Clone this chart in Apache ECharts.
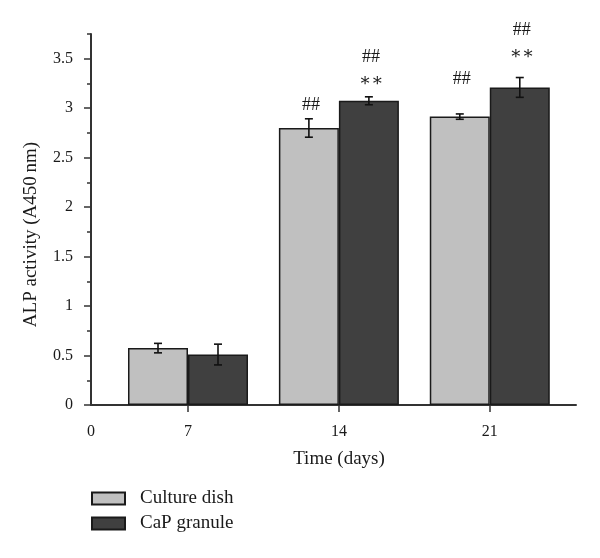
<!DOCTYPE html>
<html><head><meta charset="utf-8">
<script src="https://cdn.jsdelivr.net/npm/echarts@6/dist/echarts.min.js"></script>
<style>html,body{margin:0;padding:0;background:#fff}#c{width:600px;height:558px}</style>
</head><body><div id="c"></div>
<script>
// ---- data ----
const days = [7, 14, 21];
const xTickLabels = ['0', '7', '14', '21'];
const yTickValues = [0, 0.5, 1, 1.5, 2, 2.5, 3, 3.5];
const seriesNames = ['Culture dish', 'CaP granule'];
const cultureDish = [0.575, 2.80, 2.915];
const cultureDishErr = [0.048, 0.093, 0.027];
const capGranule = [0.51, 3.075, 3.21];
const capGranuleErr = [0.105, 0.04, 0.10];
const cultureMarks = [[], ['##'], ['##']];
const capMarks = [[], ['\u2217\u2217', '##'], ['\u2217\u2217', '##']];

// ---- style ----
const FONT = '"Liberation Serif", "Times New Roman", "DejaVu Serif", serif';
const TXT = '#1a1a1a';
const AXIS = '#333333';
const xMin = 2.5, xMax = 25;
const BAR_W = 60;
const cultureLift = [0, 14, 35];
const capLift = [0, 16, 23];
const LINE_STEP = 24;

const chart = echarts.init(document.getElementById('c'), null, {renderer: 'canvas'});

function errorSeries(values, errs, shift) {
  return {
    type: 'custom',
    silent: true,
    z: 5,
    data: days.map((d, i) => [d, values[i], errs[i]]),
    renderItem(params, api) {
      const x = api.value(0), y = api.value(1), e = api.value(2);
      const top = api.coord([x, y + e]);
      const bot = api.coord([x, y - e]);
      const cx = top[0] + shift;
      const style = {stroke: '#111', lineWidth: 1.6};
      return {type: 'group', children: [
        {type: 'line', shape: {x1: cx, y1: top[1], x2: cx, y2: bot[1]}, style},
        {type: 'line', shape: {x1: cx - 4, y1: top[1], x2: cx + 4, y2: top[1]}, style},
        {type: 'line', shape: {x1: cx - 4, y1: bot[1], x2: cx + 4, y2: bot[1]}, style}
      ]};
    }
  };
}

function markSeries(values, errs, marks, lifts, shift) {
  return {
    type: 'custom',
    silent: true,
    z: 6,
    data: days.map((d, i) => [d, values[i] + errs[i], i]),
    renderItem(params, api) {
      const x = api.value(0), y = api.value(1), i = api.value(2);
      const p = api.coord([x, y]);
      const cx = p[0] + shift + 2;
      return {type: 'group', children: marks[i].map((t, k) => ({
        type: 'text',
        style: {
          text: t, x: cx, y: p[1] - lifts[i] - k * LINE_STEP,
          align: 'center', verticalAlign: 'middle',
          font: (t.indexOf('#') >= 0 ? '18px ' : '18px ') + FONT,
          fill: TXT
        }
      }))};
    }
  };
}

const option = {
  backgroundColor: '#fff',
  animation: false,
  grid: {left: 91, right: 24, top: 34, bottom: 153},
  legend: {
    orient: 'vertical', left: 86, top: 484,
    itemWidth: 33, itemHeight: 12, itemGap: 6,
    icon: 'rect',
    textStyle: {fontFamily: FONT, fontSize: 19, color: TXT, padding: [0, 0, 0, 10]},
    data: seriesNames
  },
  xAxis: {
    type: 'value', min: xMin, max: xMax,
    name: 'Time (days)', nameLocation: 'middle', nameGap: 45,
    nameTextStyle: {fontFamily: FONT, fontSize: 19, color: TXT, padding: [0, 0, 0, 11]},
    axisLine: {show: true, lineStyle: {color: AXIS, width: 2}},
    axisTick: {show: true, length: 7, lineStyle: {color: AXIS, width: 1.5}, customValues: days},
    axisLabel: {
      fontFamily: FONT, fontSize: 16, color: TXT, margin: 19,
      customValues: [xMin].concat(days),
      formatter: v => xTickLabels[[xMin].concat(days).indexOf(v)] ?? ''
    },
    splitLine: {show: false}
  },
  yAxis: [{
    type: 'value', min: 0, max: 3.75, interval: 0.5, position: 'left',
    name: 'ALP activity (A450\u2009nm)', nameLocation: 'middle', nameGap: 50,
    nameTextStyle: {fontFamily: FONT, fontSize: 19, color: TXT, padding: [0, 30, 0, 0]},
    axisLine: {show: true, lineStyle: {color: AXIS, width: 2}},
    axisTick: {show: true, length: 7, lineStyle: {color: AXIS, width: 1.5}, customValues: yTickValues},
    axisLabel: {fontFamily: FONT, fontSize: 16, color: TXT, margin: 18,
      customValues: yTickValues, formatter: v => String(v)},
    splitLine: {show: false}
  }, {
    type: 'value', min: 0, max: 3.75, interval: 0.25, position: 'left',
    axisLine: {show: false},
    axisTick: {show: true, length: 4, lineStyle: {color: AXIS, width: 1.5}},
    axisLabel: {show: false},
    splitLine: {show: false}
  }],
  series: [
    {
      name: seriesNames[0], type: 'bar', barWidth: BAR_W, barGap: '0%',
      itemStyle: {color: '#c0c0c0', borderColor: '#1a1a1a', borderWidth: 1.5},
      data: days.map((d, i) => [d, cultureDish[i]])
    },
    {
      name: seriesNames[1], type: 'bar', barWidth: BAR_W, barGap: '0%',
      itemStyle: {color: '#404040', borderColor: '#1a1a1a', borderWidth: 1.5},
      data: days.map((d, i) => [d, capGranule[i]])
    },
    errorSeries(cultureDish, cultureDishErr, -BAR_W / 2),
    errorSeries(capGranule, capGranuleErr, BAR_W / 2),
    markSeries(cultureDish, cultureDishErr, cultureMarks, cultureLift, -BAR_W / 2),
    markSeries(capGranule, capGranuleErr, capMarks, capLift, BAR_W / 2)
  ]
};
chart.setOption(option);
</script>
</body></html>
